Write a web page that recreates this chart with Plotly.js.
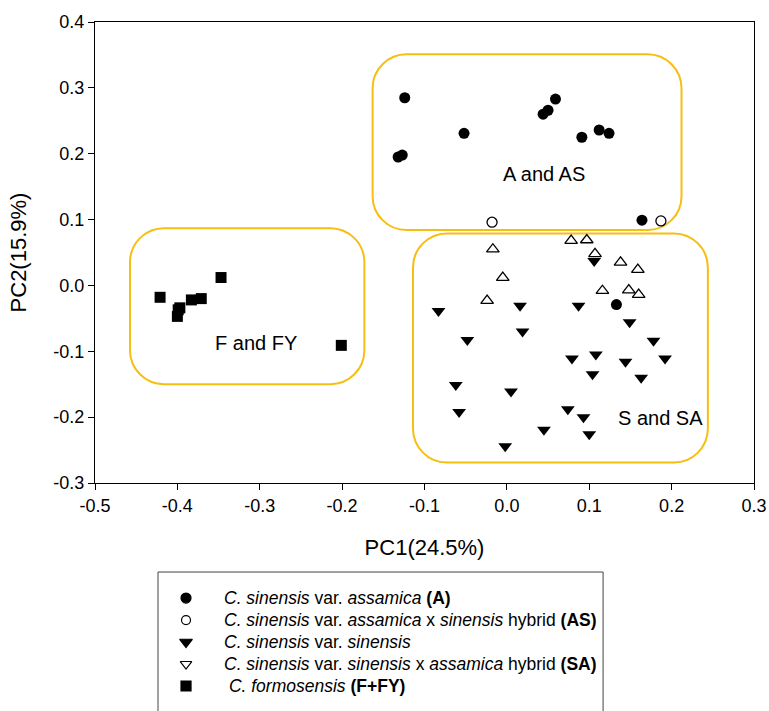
<!DOCTYPE html>
<html>
<head>
<meta charset="utf-8">
<script src="https://cdn.plot.ly/plotly-3.0.1.min.js"></script>
<style>html,body{margin:0;padding:0;background:#fff;}#chart{width:769px;height:711px;}</style>
</head>
<body>
<div id="chart"></div>
<script>
// ---- data ----
var aX = [-0.124, -0.132, -0.127, -0.052, 0.044, 0.050, 0.059, 0.091, 0.112, 0.124, 0.164, 0.133];
var aY = [0.285, 0.195, 0.198, 0.231, 0.260, 0.266, 0.283, 0.225, 0.236, 0.231, 0.099, -0.029];

var asX = [-0.018, 0.187];
var asY = [0.096, 0.098];

var sX = [0.106, -0.083, 0.016, 0.087, 0.149, 0.019, -0.048, 0.178, 0.079, 0.108, 0.144, 0.192,
          0.104, 0.163, -0.062, 0.005, -0.058, 0.074, 0.093, 0.045, 0.100, -0.002];
var sY = [0.037, -0.039, -0.031, -0.031, -0.056, -0.070, -0.083, -0.084, -0.111, -0.105, -0.116, -0.111,
          -0.135, -0.140, -0.151, -0.161, -0.192, -0.188, -0.200, -0.219, -0.226, -0.244];

var saX = [0.078, 0.097, 0.107, 0.138, 0.159, -0.017, -0.005, -0.024, 0.116, 0.148, 0.160];
var saY = [0.068, 0.069, 0.048, 0.035, 0.024, 0.055, 0.012, -0.023, -0.008, -0.007, -0.014];

var fX = [-0.421, -0.347, -0.399, -0.400, -0.383, -0.371, -0.397, -0.201];
var fY = [-0.018, 0.012, -0.037, -0.047, -0.022, -0.020, -0.034, -0.091];

var legendNames = [
  '<i>C. sinensis</i> var. <i>assamica</i> <b>(A)</b>',
  '<i>C. sinensis</i> var. <i>assamica</i> x <i>sinensis</i> hybrid <b>(AS)</b>',
  '<i>C. sinensis</i> var. <i>sinensis</i>',
  '<i>C. sinensis</i> var. <i>sinensis</i> x <i>assamica</i> hybrid <b>(SA)</b>',
  '\u00a0<i>C. formosensis</i> <b>(F+FY)</b>'
];
var legendRows = [0, 1, 2, 3, 4];
var legendSymbols = ['circle', 'circle-open', 'triangle-down', 'triangle-down-open', 'square'];
var legendSizes = [10, 9, 11, 10, 10];

// group boxes: [x0, x1, y0, y1]
var boxA = [-0.163, 0.212, 0.084, 0.351];
var boxS = [-0.114, 0.244, -0.269, 0.079];
var boxF = [-0.4575, -0.173, -0.150, 0.087];

var groupLabels = ['A and AS', 'S and SA', 'F and FY'];
var groupLabelX = [0.045, 0.187, -0.305];
var groupLabelY = [0.169, -0.201, -0.087];

var xTickVals = [-0.5, -0.4, -0.3, -0.2, -0.1, 0.0, 0.1, 0.2, 0.3];
var xTickText = ['-0.5', '-0.4', '-0.3', '-0.2', '-0.1', '0.0', '0.1', '0.2', '0.3'];
var yTickVals = [-0.3, -0.2, -0.1, 0.0, 0.1, 0.2, 0.3, 0.4];
var yTickText = ['-0.3', '-0.2', '-0.1', '0.0', '0.1', '0.2', '0.3', '0.4'];

// ---- drawing ----
var FONT = 'Liberation Sans, Arial, Helvetica, sans-serif';
var gold = '#F7BE12';

function pt(x, y, sym, size, open) {
  return {
    x: x, y: y, type: 'scatter', mode: 'markers', showlegend: false, hoverinfo: 'x+y',
    xaxis: 'x', yaxis: 'y',
    marker: {symbol: sym, size: size, opacity: 1, color: open ? 'rgba(0,0,0,0)' : '#000',
             line: {color: '#000', width: open ? 1.3 : 0}}
  };
}

var traces = [
  pt(fX, fY, 'square', 11, false),
  pt(saX, saY, 'triangle-up', 11, true),
  pt(sX, sY, 'triangle-down', 12, false),
  pt(asX, asY, 'circle', 10, true),
  pt(aX, aY, 'circle', 11, false),
  // legend key symbols, one per legend row
  {
    x: legendRows.map(function () { return 0; }), y: legendRows,
    type: 'scatter', mode: 'markers', showlegend: false, hoverinfo: 'skip',
    xaxis: 'x2', yaxis: 'y2', cliponaxis: false,
    marker: {symbol: legendSymbols, size: legendSizes, opacity: 1, color: '#000',
             line: {color: '#000', width: 1.2}}
  }
];

// rounded rectangle with circular-looking corners (cubic Bezier approximation)
function roundRect(b, rx, ry) {
  var k = 0.5523;
  var x0 = b[0], x1 = b[1], y0 = b[2], y1 = b[3];
  var cx = rx * (1 - k), cy = ry * (1 - k);
  return 'M' + (x0 + rx) + ',' + y1 +
    ' L' + (x1 - rx) + ',' + y1 +
    ' C' + (x1 - cx) + ',' + y1 + ' ' + x1 + ',' + (y1 - cy) + ' ' + x1 + ',' + (y1 - ry) +
    ' L' + x1 + ',' + (y0 + ry) +
    ' C' + x1 + ',' + (y0 + cy) + ' ' + (x1 - cx) + ',' + y0 + ' ' + (x1 - rx) + ',' + y0 +
    ' L' + (x0 + rx) + ',' + y0 +
    ' C' + (x0 + cx) + ',' + y0 + ' ' + x0 + ',' + (y0 + cy) + ' ' + x0 + ',' + (y0 + ry) +
    ' L' + x0 + ',' + (y1 - ry) +
    ' C' + x0 + ',' + (y1 - cy) + ' ' + (x0 + cx) + ',' + y1 + ' ' + (x0 + rx) + ',' + y1 + ' Z';
}
// corner radius ~34px -> data units (x: 824 px per unit, y: 659 px per unit)
var rx = 34 / 824, ry = 34 / 659;
var shapes = [boxA, boxS, boxF].map(function (b) {
  return {type: 'path', xref: 'x', yref: 'y', path: roundRect(b, rx, ry),
          line: {color: gold, width: 2}, fillcolor: 'rgba(0,0,0,0)', layer: 'below'};
});
// legend frame (bottom edge runs past the page)
shapes.push({type: 'rect', xref: 'paper', yref: 'paper', x0: 0.0956, x1: 0.771, y0: -0.05, y1: 0.2017,
             line: {color: '#444', width: 1}, fillcolor: 'rgba(0,0,0,0)'});

var annotations = groupLabels.map(function (t, i) {
  return {x: groupLabelX[i], y: groupLabelY[i], xref: 'x', yref: 'y', text: t, showarrow: false,
          font: {family: FONT, size: 20, color: '#000'}};
});
legendNames.forEach(function (t, i) {
  annotations.push({x: 36, y: legendRows[i], xref: 'x2', yref: 'y2', text: t, showarrow: false,
                    xanchor: 'left', yanchor: 'middle',
                    font: {family: FONT, size: 17.5, color: '#000'}});
});

var axisCommon = {
  showgrid: false, zeroline: false, showline: true, linecolor: '#000', linewidth: 1, mirror: true,
  ticks: 'outside', ticklen: 6, tickwidth: 1, tickcolor: '#000',
  tickfont: {family: FONT, size: 18, color: '#000'}, tickmode: 'array'
};

// page: 711 px tall, margin t=22, b=0 -> paper height 689
var layout = {
  width: 769, height: 711,
  margin: {l: 95, r: 15, t: 22, b: 0},
  paper_bgcolor: '#fff', plot_bgcolor: '#fff',
  font: {family: FONT, color: '#000'},
  showlegend: false,
  xaxis: Object.assign({}, axisCommon, {
    domain: [0, 1], anchor: 'y',
    range: [-0.5, 0.3], tickvals: xTickVals, ticktext: xTickText,
    title: {text: 'PC1(24.5%)', font: {family: FONT, size: 22}, standoff: 24}
  }),
  yaxis: Object.assign({}, axisCommon, {
    domain: [0.3309, 1], anchor: 'x',
    range: [-0.3, 0.4], tickvals: yTickVals, ticktext: yTickText,
    title: {text: 'PC2(15.9%)', font: {family: FONT, size: 22}, standoff: 20}
  }),
  // hidden axes for the legend box: x in px offsets from the key column, y in row index
  xaxis2: {domain: [0.0956, 0.771], anchor: 'y2', range: [-28, 417], visible: false, fixedrange: true},
  yaxis2: {domain: [0, 0.2017], anchor: 'x2', range: [5.136, -1.182], visible: false, fixedrange: true},
  shapes: shapes,
  annotations: annotations
};

Plotly.newPlot('chart', traces, layout, {displayModeBar: false, staticPlot: true});
</script>
</body>
</html>
